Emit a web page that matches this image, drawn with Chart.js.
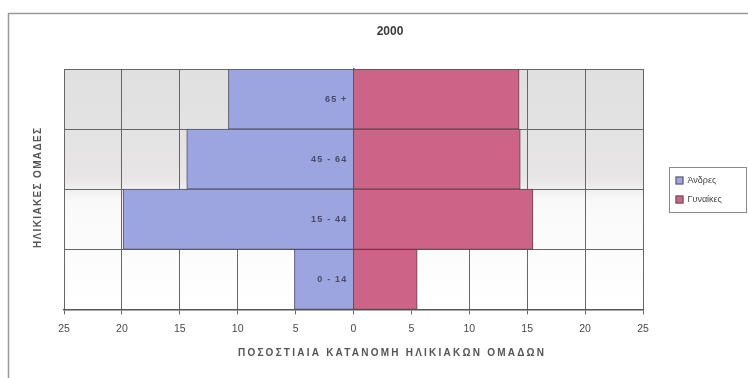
<!DOCTYPE html>
<html>
<head>
<meta charset="utf-8">
<style>
  html, body { margin: 0; padding: 0; background: #fff; }
  #wrap { width: 748px; height: 378px; }
</style>
<script src="https://cdn.jsdelivr.net/npm/chart.js@4.4.1/dist/chart.umd.min.js"></script>
</head>
<body>
<div id="wrap"><canvas id="pyramid" width="748" height="378"></canvas></div>
<script>
// Age groups, top row first
const AGE_GROUPS = ['65 +', '45 - 64', '15 - 44', '0 - 14'];
// percent of population per age group
const MEN = [10.8, 14.4, 19.9, 5.1];
const WOMEN = [14.3, 14.4, 15.5, 5.5];
const SERIES_NAMES = ['Άνδρες', 'Γυναίκες'];
const AXIS_MAX = 25;
const AXIS_STEP = 5;

const CHART_TITLE = '2000';
const X_TITLE = 'ΠΟΣΟΣΤΙΑΙΑ ΚΑΤΑΝΟΜΗ ΗΛΙΚΙΑΚΩΝ ΟΜΑΔΩΝ';
const Y_TITLE = 'ΗΛΙΚΙΑΚΕΣ ΟΜΑΔΕΣ';

const FONT = "'Liberation Sans', Arial, sans-serif";
const NARROW = "'Liberation Sans Narrow', 'Liberation Sans', Arial, sans-serif";

// stretch a caption to a given width with letter spacing
function spacedText(ctx, text, x, y, width) {
  ctx.letterSpacing = '0px';
  const w = ctx.measureText(text).width;
  const extra = Math.max(0, (width - w) / (text.length - 1));
  ctx.letterSpacing = extra.toFixed(2) + 'px';
  ctx.fillText(text, x + extra / 2, y);
  ctx.letterSpacing = '0px';
}

// frame, plot background, titles, age labels and boxed legend
const decor = {
  id: 'decor',
  beforeDraw(chart) {
    const ctx = chart.ctx;
    const a = chart.chartArea;
    ctx.save();
    ctx.fillStyle = '#ffffff';
    ctx.fillRect(0, 0, chart.width, chart.height);

    ctx.strokeStyle = '#9a9a9a';
    ctx.lineWidth = 1.5;
    ctx.beginPath();
    ctx.moveTo(8.5, chart.height);
    ctx.lineTo(8.5, 13.5);
    ctx.lineTo(chart.width, 13.5);
    ctx.stroke();

    const g = ctx.createLinearGradient(0, a.top, 0, a.bottom);
    g.addColorStop(0, '#e0e0e0');
    g.addColorStop(0.45, '#e7e5e6');
    g.addColorStop(0.55, '#f9f9f9');
    g.addColorStop(1, '#ffffff');
    ctx.fillStyle = g;
    ctx.fillRect(a.left, a.top, a.right - a.left, a.bottom - a.top);
    ctx.restore();
  },
  afterDraw(chart) {
    const ctx = chart.ctx;
    const xs = chart.scales.x;
    const ys = chart.scales.y;

    // age group names just left of the zero line
    ctx.save();
    ctx.fillStyle = '#4a4a6a';
    ctx.font = 'bold 9px ' + FONT;
    ctx.letterSpacing = '1.2px';
    ctx.textAlign = 'right';
    ctx.textBaseline = 'middle';
    const x0 = xs.getPixelForValue(0);
    chart.data.labels.forEach((lab, i) => {
      ctx.fillText(lab, x0 - 6, ys.getPixelForTick(i) + 0.5);
    });
    ctx.restore();

    ctx.save();
    ctx.fillStyle = '#3a3a3a';
    ctx.textAlign = 'center';
    ctx.textBaseline = 'middle';
    ctx.font = 'bold 12px ' + FONT;
    ctx.fillText(CHART_TITLE, 390, 32);

    ctx.fillStyle = '#555555';
    ctx.font = 'bold 10px ' + FONT;
    spacedText(ctx, X_TITLE, 391, 353, 306);

    ctx.translate(38, 188);
    ctx.rotate(-Math.PI / 2);
    spacedText(ctx, Y_TITLE, 0, 0, 120);
    ctx.restore();

    // legend
    ctx.save();
    const bx = 669.5, by = 167.5, bw = 77, bh = 45;
    ctx.strokeStyle = '#8a8a8a';
    ctx.lineWidth = 1;
    ctx.strokeRect(bx, by, bw, bh);
    ctx.font = '9px ' + FONT;
    ctx.textBaseline = 'middle';
    ctx.textAlign = 'left';
    chart.data.datasets.forEach((ds, i) => {
      const y = by + 13 + i * 19;
      ctx.fillStyle = ds.backgroundColor;
      ctx.fillRect(bx + 6, y - 4, 8, 8);
      ctx.strokeStyle = '#555';
      ctx.strokeRect(bx + 6.5, y - 3.5, 7, 7);
      ctx.fillStyle = '#444';
      ctx.fillText(ds.label, bx + 18, y);
    });
    ctx.restore();
  }
};

new Chart(document.getElementById('pyramid'), {
  type: 'bar',
  data: {
    labels: AGE_GROUPS,
    datasets: [
      {
        label: SERIES_NAMES[0],
        data: MEN.map(v => -v),
        backgroundColor: '#9ca5e0',
        borderColor: '#4f4f62',
        borderWidth: 1,
        barPercentage: 1,
        categoryPercentage: 1
      },
      {
        label: SERIES_NAMES[1],
        data: WOMEN,
        backgroundColor: '#cd6487',
        borderColor: '#5e4450',
        borderWidth: 1,
        barPercentage: 1,
        categoryPercentage: 1
      }
    ]
  },
  options: {
    indexAxis: 'y',
    responsive: false,
    animation: false,
    devicePixelRatio: 1,
    layout: { padding: { left: 64, right: 105, top: 69, bottom: 35 } },
    plugins: {
      legend: { display: false },
      title: { display: false },
      tooltip: { enabled: false }
    },
    scales: {
      x: {
        stacked: true,
        min: -AXIS_MAX,
        max: AXIS_MAX,
        ticks: {
          stepSize: AXIS_STEP,
          color: '#484848',
          padding: 8,
          font: { family: NARROW, size: 10.5 },
          callback: v => Math.abs(v)
        },
        grid: { color: '#676767', lineWidth: 1, tickLength: 5 },
        border: { color: '#555', width: 1.5 }
      },
      y: {
        stacked: true,
        position: { x: 0 },
        z: 1,
        ticks: { display: false },
        grid: { color: '#666666', lineWidth: 1, drawTicks: false, offset: true },
        border: { color: '#555', width: 1.5 }
      }
    }
  },
  plugins: [decor]
});
</script>
</body>
</html>
